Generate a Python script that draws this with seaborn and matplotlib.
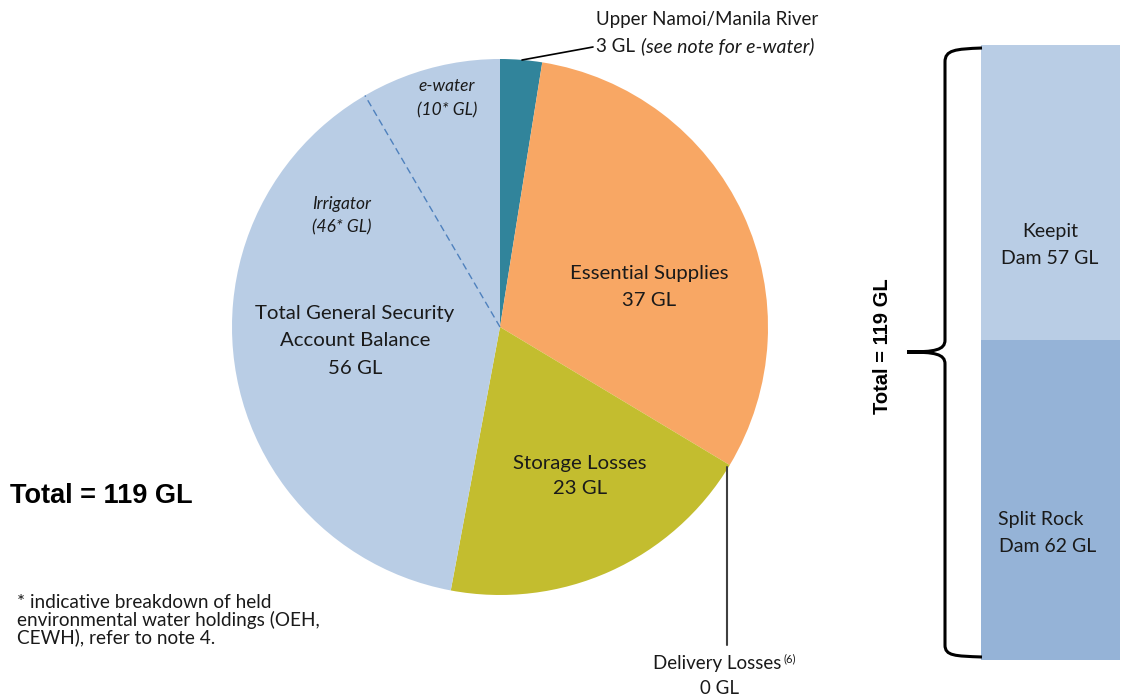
import matplotlib
matplotlib.use("Agg")
import matplotlib.pyplot as plt
import seaborn as sns
import pandas as pd
import numpy as np
from matplotlib.path import Path
from matplotlib.patches import PathPatch

sns.set_theme(style="white")
plt.rcParams['font.family'] = ['Lato', 'DejaVu Sans']

# ---- data ----
pie_labels = ["Upper Namoi/Manila River", "Essential Supplies", "Delivery Losses",
              "Storage Losses", "Total General Security Account Balance"]
pie_values = [3, 37, 0, 23, 56]
pie_colors = ["#31849B", "#F8A764", "#C3BD2F", "#C3BD2F", "#B9CDE5"]
gs_split_labels = ["Irrigator", "e-water"]
gs_split_values = [46, 10]
dam_names = ["Keepit", "Split Rock"]
dam_values = [57, 62]
total_value = 119

W, H = 1130, 700
fig = plt.figure(figsize=(W / 100, H / 100), dpi=100)

def fr(x0, y0, x1, y1):
    return [x0 / W, 1 - y1 / H, (x1 - x0) / W, (y1 - y0) / H]

# ---- pie ----
cx, cy, r = 500, 327, 268
pax = fig.add_axes(fr(cx - r, cy - r, cx + r, cy + r))
wedges, _ = pax.pie(pie_values, colors=pie_colors, startangle=90, counterclock=False,
                    radius=1, wedgeprops=dict(linewidth=0))
pax.set_xlim(-1, 1)
pax.set_ylim(-1, 1)
pax.set_aspect("equal")
pax.axis("off")

# dashed split line between Irrigator and e-water
ang = np.deg2rad(90 + gs_split_values[1] / sum(pie_values) * 360)
pax.plot([0, np.cos(ang)], [0, np.sin(ang)], ls=(0, (5, 3)), color="#4F81BD", lw=1)

# ---- stacked bar with seaborn ----
bax = fig.add_axes(fr(981, 45, 1120, 660))
df_tot = pd.DataFrame({"grp": ["Dams"], "val": [sum(dam_values)]})
df_bot = pd.DataFrame({"grp": ["Dams"], "val": [dam_values[1]]})
sns.barplot(data=df_tot, x="grp", y="val", color="#B9CDE5", saturation=1, width=1,
            ax=bax, linewidth=0)
sns.barplot(data=df_bot, x="grp", y="val", color="#95B3D7", saturation=1, width=1,
            ax=bax, linewidth=0)
bax.set_xlim(-0.5, 0.5)
bax.set_ylim(0, sum(dam_values))
bax.axis("off")

# overlay axes in pixel coordinates (on top)
ov = fig.add_axes([0, 0, 1, 1])
ov.set_xlim(0, W)
ov.set_ylim(H, 0)
ov.axis("off")
ov.set_zorder(10)
ov.patch.set_alpha(0)

fs = 14.7
ink = "#1a1a1a"
def txt(x, y, s, **kw):
    kw.setdefault("ha", "center")
    kw.setdefault("va", "center")
    kw.setdefault("fontsize", fs)
    kw.setdefault("color", ink)
    ov.text(x, y, s, **kw)

txt(649, 273, pie_labels[1])
txt(649, 300, f"{pie_values[1]} GL")
txt(580, 463, pie_labels[3])
txt(580, 489, f"{pie_values[3]} GL")
txt(355, 314, "Total General Security")
txt(355, 341, "Account Balance")
txt(355, 368, f"{pie_values[4]} GL")
sfs = 12.5
txt(342, 204, gs_split_labels[0], style="italic", fontsize=sfs)
txt(342, 227, f"({gs_split_values[0]}* GL)", style="italic", fontsize=sfs)
txt(447, 86, gs_split_labels[1], style="italic", fontsize=sfs)
txt(447, 110, f"({gs_split_values[1]}* GL)", style="italic", fontsize=sfs)

# Upper Namoi label + leader
ov.plot([522, 593], [60, 47], color="black", lw=1.2)
txt(707, 19, pie_labels[0], fontsize=13.5)
ov.text(596, 46, f"{pie_values[0]} GL", ha="left", va="center", fontsize=13.5, color=ink)
ov.text(641, 46, "(see note for e-water)", ha="left", va="center", fontsize=14,
        style="italic", color=ink)

# Delivery losses label + leader
ov.plot([727, 727], [467, 645], color="#404040", lw=1.5)
ov.text(717, 663, pie_labels[2], ha="center", va="center", fontsize=13.5, color=ink)
ov.text(783, 659, "(6)", ha="left", va="center", fontsize=8, color=ink)
txt(720, 689, f"{pie_values[2]} GL", fontsize=13.5)

# Total bold and note
ov.text(10, 496, f"Total = {total_value} GL", ha="left", va="center", fontsize=19.5,
        fontweight="bold", family="Liberation Sans", color="black")
note = ["* indicative breakdown of held",
        "environmental water holdings (OEH,",
        "CEWH), refer to note 4."]
for i, line in enumerate(note):
    ov.text(17, 603 + i * 17, line, ha="left", va="center", fontsize=13.7, color=ink)

# dam labels
txt(1050, 232, dam_names[0], fontsize=14)
txt(1050, 259, f"Dam {dam_values[0]} GL", fontsize=14)
ov.text(998, 519, dam_names[1], ha="left", va="center", fontsize=14, color=ink)
ov.text(999, 546, f"Dam {dam_values[1]} GL", ha="left", va="center", fontsize=14, color=ink)

# brace
verts = [(982, 48), (955, 49), (945, 50), (945, 62),
         (945, 340),
         (945, 350), (935, 352), (907, 352),
         (935, 352), (945, 354), (945, 364),
         (945, 645),
         (945, 656), (955, 656), (982, 657)]
codes = [Path.MOVETO, Path.CURVE4, Path.CURVE4, Path.CURVE4,
         Path.LINETO,
         Path.CURVE4, Path.CURVE4, Path.CURVE4,
         Path.CURVE4, Path.CURVE4, Path.CURVE4,
         Path.LINETO,
         Path.CURVE4, Path.CURVE4, Path.CURVE4]
ov.add_patch(PathPatch(Path(verts, codes), fill=False, lw=2.2, color="black"))
ov.text(883, 346, f"Total = {total_value} GL", rotation=90, ha="center", va="center",
        fontsize=14.5, fontweight="bold", family="Liberation Sans", color="black")

fig.savefig("out.png", dpi=100)
